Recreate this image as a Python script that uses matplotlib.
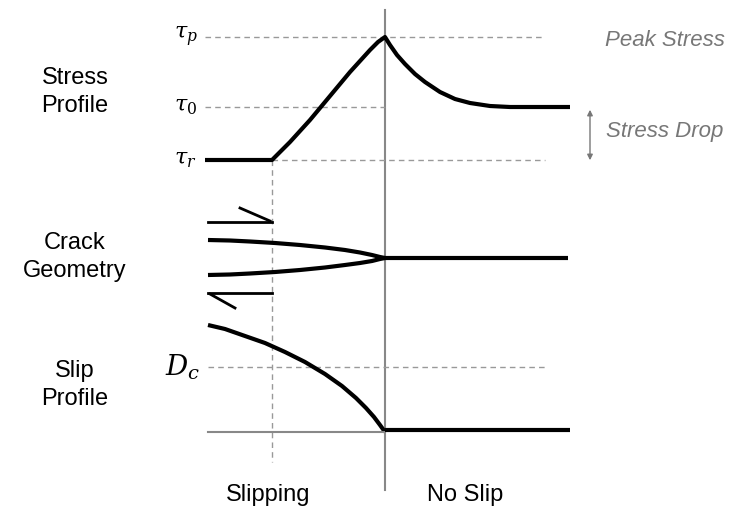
import numpy as np
import matplotlib.pyplot as plt
plt.rcParams['mathtext.fontset'] = 'dejavuserif'

# values (pixel-like schematic coordinates)
stress_x = [205, 272, 280, 290, 300, 310, 320, 330, 340, 350, 360, 370, 378, 385,
            390, 397, 405, 415, 425, 440, 455, 470, 490, 510, 570]
stress_y = [160, 160, 152, 142, 131, 120, 108, 96, 84, 72, 61, 50, 42, 37,
            45, 55, 64, 74, 82, 92, 99, 103, 106, 107, 107]
crack_x = [208, 230, 250, 275, 300, 325, 345, 360, 372, 380, 385]
crack_up = [240, 240.5, 241.5, 243, 245, 247.5, 250, 252.5, 255, 257, 258]
crack_lo = [275, 274.5, 273.5, 272, 270, 267.5, 265, 263, 261, 259, 258]
slip_x = [208, 225, 245, 265, 285, 305, 325, 342, 356, 366, 374, 380, 385]
slip_y = [325, 329, 336, 343, 352, 362, 374, 386, 398, 408, 417, 425, 432]
tau_levels = {'p': 37, '0': 107, 'r': 160}
Dc_level = 367
row_labels = ['Stress\nProfile', 'Crack\nGeometry', 'Slip\nProfile']
row_y = [92, 257, 385]

fig = plt.figure(figsize=(7.43, 5.09), dpi=100)
ax = fig.add_axes([0, 0, 1, 1])
ax.set_xlim(0, 743); ax.set_ylim(509, 0); ax.axis('off')
dash = dict(color='#999999', lw=1, ls=(0, (4, 3)))

ax.plot([385, 385], [10, 490], color='#888888', lw=1.5)
ax.plot([272, 272], [160, 462], **dash)
ax.plot([205, 545], [tau_levels['p']] * 2, **dash)
ax.plot([205, 385], [tau_levels['0']] * 2, **dash)
ax.plot([272, 545], [tau_levels['r']] * 2, **dash)
ax.plot([208, 545], [Dc_level] * 2, **dash)

kw = dict(color='black', lw=3, solid_capstyle='butt', solid_joinstyle='round')
ax.plot(stress_x, stress_y, **kw)
ax.plot(crack_x, crack_up, **kw)
ax.plot(crack_x, crack_lo, **kw)
ax.plot([385, 568], [258, 258], **kw)
ax.plot([208, 272], [222, 222], color='black', lw=2)
ax.plot([240, 270], [208, 221], color='black', lw=2)
ax.plot([208, 272], [293, 293], color='black', lw=2)
ax.plot([210, 235], [294, 308], color='black', lw=2)
ax.plot(slip_x, slip_y, **kw)
ax.plot([208, 385], [432, 432], color='#888888', lw=1.5)
ax.plot([385, 570], [430, 430], **kw)

for lab, y in zip(row_labels, row_y):
    ax.text(75, y, lab, ha='center', va='center', fontsize=17, family='Liberation Sans', linespacing=1.35)
for k, y in tau_levels.items():
    ax.text(174, y, r'$\tau_{%s}$' % k, ha='left', va='center', fontsize=16)
ax.text(165, Dc_level, r'$D_c$', ha='left', va='center', fontsize=20)
ax.text(268, 495, 'Slipping', ha='center', va='center', fontsize=17, family='Liberation Sans')
ax.text(465, 495, 'No Slip', ha='center', va='center', fontsize=17, family='Liberation Sans')
ax.text(665, 40, 'Peak Stress', ha='center', va='center', fontsize=16, style='italic', color='#777777', family='Liberation Sans')
ax.text(665, 132, 'Stress Drop', ha='center', va='center', fontsize=16, style='italic', color='#777777', family='Liberation Sans')
ax.annotate('', xy=(590, 107), xytext=(590, 163), arrowprops=dict(arrowstyle='<|-|>', color='#777777', lw=1, mutation_scale=8))
fig.savefig('out.png', dpi=100)
